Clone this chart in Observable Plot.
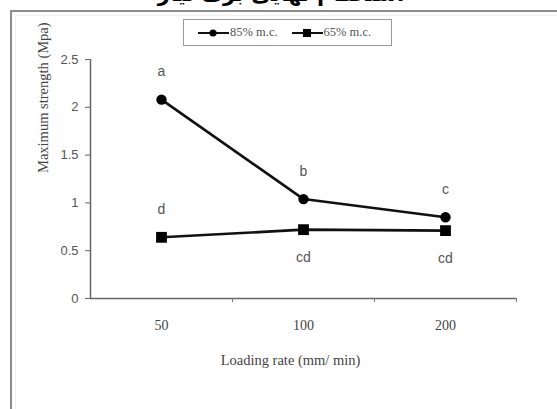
<!DOCTYPE html>
<html>
<head>
<meta charset="utf-8">
<script src="https://cdn.jsdelivr.net/npm/d3@7"></script>
<script src="https://cdn.jsdelivr.net/npm/@observablehq/plot@0.6"></script>
<style>
  html, body { margin: 0; padding: 0; background: #fff; }
  #wrap { position: relative; width: 557px; height: 409px; overflow: hidden; background: #fff; }
  #frame { position: absolute; left: 10px; top: 10px; width: 620px; height: 480px; border: 2px solid #8c8c8c; box-sizing: border-box; }
  #frame2 { position: absolute; left: 15px; top: 15px; width: 620px; height: 480px; border: 1px solid #f0f0f0; box-sizing: border-box; }
  #title { position: absolute; left: 0; width: 562px; top: -18px; text-align: center; font-family: "DejaVu Sans", sans-serif; font-weight: bold; font-size: 21px; color: #000; white-space: nowrap; direction: rtl; }
  #chart { position: absolute; left: 0; top: 0; }
  #legend { position: absolute; left: 183px; top: 19px; width: 209px; height: 27px; border: 1.5px solid #9a9a9a; box-sizing: border-box; background: #fff; display: flex; align-items: center; padding-left: 14px; font-family: "Liberation Serif", serif; font-size: 12.5px; color: #555; }
  .item { display: flex; align-items: center; margin-right: 14px; }
  .item svg { margin-right: 1px; }
</style>
</head>
<body>
<div id="wrap">
  <div id="frame"></div>
  <div id="frame2"></div>
  <div id="chart"></div>
  <div id="title"></div>
  <div id="legend"></div>
</div>
<script>
// ---- data ----
const titleText = "استحکام نهایی برگ تیار";
const categories = ["50", "100", "200"];
const seriesNames = ["85% m.c.", "65% m.c."];
const values85 = [2.08, 1.04, 0.85];
const values65 = [0.64, 0.72, 0.71];
const letters85 = ["a", "b", "c"];
const letters65 = ["d", "cd", "cd"];
const letterSide65 = ["above", "below", "below"];
const yTicks = [0, 0.5, 1, 1.5, 2, 2.5];
const xLabel = "Loading rate (mm/ min)";
const yLabel = "Maximum strength (Mpa)";

// ---- build table ----
const rows = [];
categories.forEach((c, i) => {
  rows.push({i, cat: c, series: seriesNames[0], value: values85[i], letter: letters85[i], side: "above"});
  rows.push({i, cat: c, series: seriesNames[1], value: values65[i], letter: letters65[i], side: letterSide65[i]});
});
const boundaries = categories.map((_, i) => i + 0.5);

document.getElementById("title").textContent = titleText;

const chart = Plot.plot({
  width: 557,
  height: 409,
  marginLeft: 90,
  marginRight: 41,
  marginTop: 59,
  marginBottom: 111,
  style: {background: "transparent", overflow: "visible"},
  x: {type: "linear", domain: [-0.5, categories.length - 0.5]},
  y: {domain: [0, 2.5]},
  marks: [
    // axis lines
    Plot.ruleY([0], {stroke: "#666", strokeWidth: 1.5}),
    Plot.ruleX([-0.5], {y1: 0, y2: 2.5, stroke: "#666", strokeWidth: 1.5}),
    // y axis
    Plot.axisY(yTicks, {
      tickSize: 5, tickPadding: 7, stroke: "#666",
      tickFormat: d => String(d),
      fontFamily: "Liberation Sans, sans-serif", fontSize: 13, fill: "#555",
      label: null
    }),
    // x axis category labels
    Plot.axisX(categories.map((_, i) => i), {
      tickSize: 0, tickPadding: 22,
      tickFormat: i => categories[i],
      fontFamily: "Liberation Serif, serif", fontSize: 14, fill: "#444",
      label: null
    }),
    // boundary ticks
    Plot.axisX(boundaries, {
      tickSize: 4, stroke: "#777", tickFormat: () => "", label: null
    }),
    // lines
    Plot.line(rows, {x: "i", y: "value", z: "series", stroke: "#111", strokeWidth: 2.6}),
    // markers
    Plot.dot(rows.filter(d => d.series === seriesNames[0]), {x: "i", y: "value", r: 5.2, symbol: "circle", fill: "#000"}),
    Plot.dot(rows.filter(d => d.series === seriesNames[1]), {x: "i", y: "value", r: 6.1, symbol: "square", fill: "#000", strokeWidth: 0}),
    // significance letters
    Plot.text(rows.filter(d => d.side === "above"), {x: "i", y: "value", text: "letter", dy: -28, fontFamily: "Liberation Sans, sans-serif", fontSize: 14, fill: "#555"}),
    Plot.text(rows.filter(d => d.side === "below"), {x: "i", y: "value", text: "letter", dy: 28, fontFamily: "Liberation Sans, sans-serif", fontSize: 14, fill: "#555"}),
    // axis titles
    Plot.text([yLabel], {frameAnchor: "left", rotate: -90, dx: -47, dy: -6, fontFamily: "Liberation Serif, serif", fontSize: 14.5, fill: "#444"}),
    Plot.text([xLabel], {frameAnchor: "bottom", dx: -13, dy: 66, fontFamily: "Liberation Serif, serif", fontSize: 14.5, fill: "#444"})
  ]
});
document.getElementById("chart").appendChild(chart);

// ---- legend ----
const legend = document.getElementById("legend");
seriesNames.forEach((name, k) => {
  const item = document.createElement("div");
  item.className = "item";
  const marker = k === 0
    ? '<circle cx="15" cy="6" r="3.6" fill="#000"/>'
    : '<rect x="11" y="2" width="8" height="8" fill="#000"/>';
  item.innerHTML = '<svg width="31" height="12"><line x1="0" y1="6" x2="31" y2="6" stroke="#111" stroke-width="2"/>' + marker + '</svg><span>' + name + '</span>';
  legend.appendChild(item);
});
</script>
</body>
</html>
